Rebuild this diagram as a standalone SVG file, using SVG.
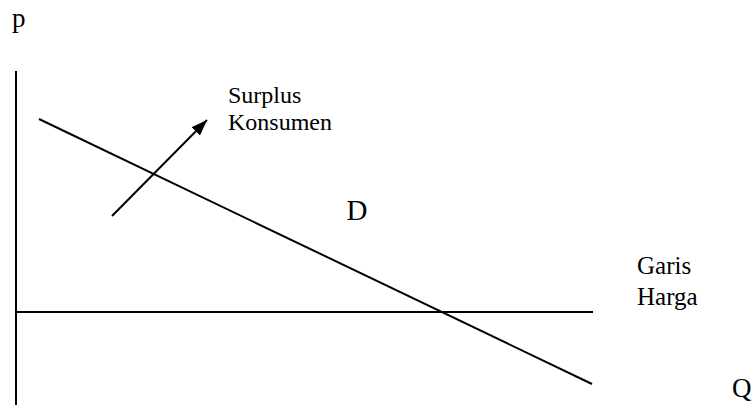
<svg xmlns="http://www.w3.org/2000/svg" width="755" height="405" viewBox="0 0 755 405">
<style>
  .ln { stroke: #000; stroke-width: 2; fill: none; }
  text { font-family: 'Liberation Serif', 'DejaVu Serif', serif; fill: #000; }
</style>
<defs>
  <marker id="ah2" viewBox="0 0 16 12" refX="16" refY="6" markerWidth="16" markerHeight="12" markerUnits="userSpaceOnUse" orient="auto">
    <path d="M0,0 L16,6 L0,12 z" fill="#000"/>
  </marker>
</defs>
<rect width="755" height="405" fill="#fff"/>
<g id="connectors">
  <line class="ln" x1="16" y1="71" x2="16" y2="405"/>
  <line class="ln" x1="16" y1="312" x2="593" y2="312"/>
  <line class="ln" x1="39" y1="119" x2="592" y2="384"/>
  <line class="ln" x1="112" y1="216" x2="207" y2="120" marker-end="url(#ah2)"/>
</g>
<g id="label-p"><text x="12" y="27" font-size="27">p</text></g>
<g id="label-surplus">
  <text x="228" y="102.5" font-size="24">Surplus</text>
  <text x="228" y="130" font-size="24">Konsumen</text>
</g>
<g id="label-D"><text x="346.5" y="220" font-size="29">D</text></g>
<g id="label-garis">
  <text x="637" y="274" font-size="25">Garis</text>
  <text x="637" y="305" font-size="25">Harga</text>
</g>
<g id="label-Q"><text x="732" y="397" font-size="27">Q</text></g>
</svg>
